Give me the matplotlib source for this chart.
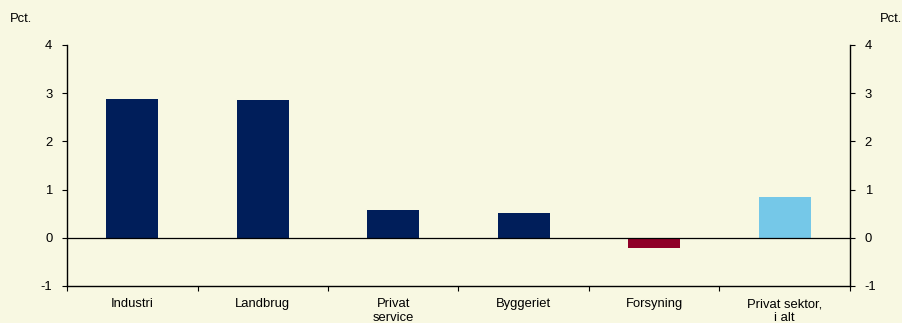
import matplotlib

matplotlib.use("Agg")
import matplotlib.pyplot as plt
import numpy as np

BG = "#f8f8e2"
NAVY = "#001e5a"
RED = "#900028"
LIGHT = "#75c8e8"

categories = ["Industri", "Landbrug", "Privat\nservice", "Byggeriet", "Forsyning", "Privat sektor,\ni alt"]
values = [2.88, 2.86, 0.58, 0.52, -0.21, 0.85]
colors = [NAVY, NAVY, NAVY, NAVY, RED, LIGHT]
yticks = [-1, 0, 1, 2, 3, 4]

plt.rcParams.update({"font.family": ["Liberation Sans", "DejaVu Sans"], "font.size": 9.4})

fig = plt.figure(figsize=(9.03, 3.23), dpi=100, facecolor=BG)
ax = fig.add_axes([0.0742, 0.1146, 0.8671, 0.7461], facecolor=BG)

x = np.arange(len(categories))
ax.bar(x, values, width=0.4, color=colors, zorder=2)
ax.axhline(0, color="black", lw=0.9, zorder=3)

ax.set_xlim(-0.5, len(categories) - 0.5)
ax.set_ylim(-1, 4)
ax.set_yticks(yticks)
ax.set_yticklabels([str(t) for t in yticks])
ax.tick_params(axis="y", which="both", direction="out", length=3.5, width=0.8,
               left=True, right=True, labelleft=True, labelright=True, pad=7)

# category labels centred, tick marks at boundaries
ax.set_xticks(x)
ax.set_xticklabels(categories, linespacing=1.15)
ax.tick_params(axis="x", which="major", length=0, pad=9)
ax.set_xticks(np.arange(len(categories) + 1) - 0.5, minor=True)
ax.tick_params(axis="x", which="minor", direction="out", length=3.5, width=0.8)

ax.spines["top"].set_visible(False)
for s in ("left", "right", "bottom"):
    ax.spines[s].set_linewidth(1.0)

fig.text(10 / 903, 1 - 19 / 323, "Pct.", ha="left", va="center")
fig.text(1 - 1 / 903, 1 - 19 / 323, "Pct.", ha="right", va="center")

fig.savefig("out.png", dpi=100, facecolor=BG)
